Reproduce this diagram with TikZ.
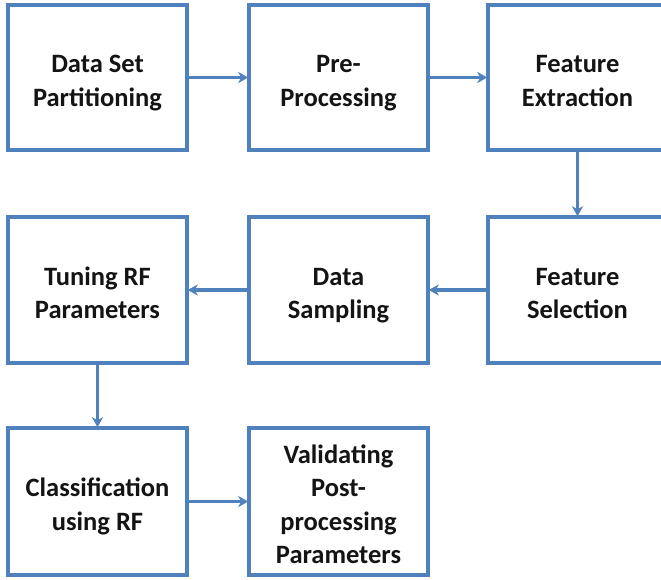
\documentclass[tikz,border=0pt]{standalone}
\usepackage{fontspec}
\setmainfont{Carlito}
\usetikzlibrary{arrows.meta}
\definecolor{boxblue}{RGB}{79,129,189}
\definecolor{txt}{RGB}{20,20,20}
% centred multi-line label; the kern on top sets it a little below the middle of its box
\newcommand\steplabel[1]{\vbox{\kern11pt\hbox{\begin{tabular}{@{}c@{}}#1\end{tabular}}}}
\begin{document}
\begin{tikzpicture}[x=1pt,y=-1pt,
  stepbox/.style={draw=boxblue, line width=3.5pt, fill=white, minimum width=179pt,
    inner sep=0pt, text=txt,
    font=\bfseries\fontsize{26.5}{33.5}\selectfont},
  flow/.style={draw=boxblue, line width=3.5pt,
    -{Stealth[length=10pt,width=11pt,inset=3pt]}, shorten >=-1pt}]
\useasboundingbox (0,0) rectangle (661,580);
\fill[white] (0,0) rectangle (661,580);
% first row
\node[stepbox, minimum height=145pt] (part) at (97.5,77.5) {\steplabel{Data Set\\Partitioning}};
\node[stepbox, minimum height=145pt] (pre) at (338.5,77.5) {\steplabel{Pre-\\Processing}};
\node[stepbox, minimum height=145pt] (extr) at (577.5,77.5) {\steplabel{Feature\\Extraction}};
% second row
\node[stepbox, minimum height=146pt] (tune) at (97.5,290) {\steplabel{Tuning RF\\Parameters}};
\node[stepbox, minimum height=146pt] (samp) at (338.5,290) {\steplabel{Data\\Sampling}};
\node[stepbox, minimum height=146pt] (sel) at (577.5,290) {\steplabel{Feature\\Selection}};
% third row
\node[stepbox, minimum height=147pt] (cls) at (97.5,501.5) {\steplabel{Classification\\using RF}};
\node[stepbox, minimum height=147pt] (val) at (338.5,501.5) {\steplabel{Validating\\Post-\\processing\\Parameters}};
% connectors
\draw[flow] (part) -- (pre);
\draw[flow] (pre) -- (extr);
\draw[flow] (extr) -- (sel);
\draw[flow] (sel) -- (samp);
\draw[flow] (samp) -- (tune);
\draw[flow] (tune) -- (cls);
\draw[flow] (cls) -- (val);
\end{tikzpicture}
\end{document}
